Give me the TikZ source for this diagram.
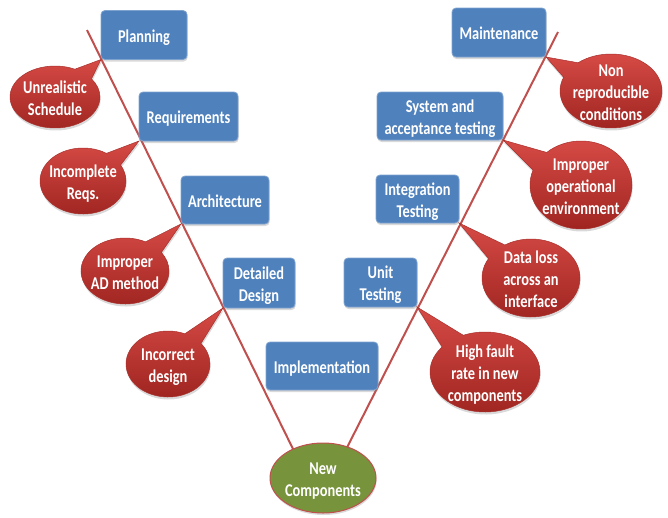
\documentclass[tikz,border=0pt]{standalone}
\usepackage{fontspec}
\setmainfont{Carlito}[FakeStretch=0.8]
\usetikzlibrary{shapes.callouts,shapes.geometric,shadows}

\definecolor{boxblue}{HTML}{4F81BD}
\definecolor{boxedge}{HTML}{7FA3CF}
\definecolor{vred}{HTML}{C0504D}
\definecolor{calltop}{HTML}{D64A45}
\definecolor{callmid}{HTML}{C33834}
\definecolor{callbot}{HTML}{9E2420}
\definecolor{calledge}{HTML}{A8302C}
\definecolor{compgreen}{HTML}{77933C}

% centred multi-line text that takes no room inside its node
\newcommand\ctxt[1]{\smash{\raisebox{-.4em}{\makebox[0pt]{\begin{tabular}{@{}c@{}}#1\end{tabular}}}}}

\tikzset{
  lbl/.style={text=white, font=\fontsize{18}{22}\selectfont\bfseries, inner sep=0pt, outer sep=0pt},
  phase/.style={lbl, rectangle, rounded corners=4pt, fill=boxblue, draw=boxedge, line width=0.8pt,
    drop shadow={shadow xshift=0.6pt, shadow yshift=-2pt, opacity=0.3}},
  risk/.style={lbl, ellipse callout, callout pointer arc=28, top color=calltop, middle color=callmid,
    bottom color=callbot, draw=calledge, line width=0.5pt,
    drop shadow={shadow xshift=0.6pt, shadow yshift=-2.5pt, opacity=0.3}},
  vline/.style={draw=vred, line width=2pt},
}

\begin{document}
\begin{tikzpicture}[x=1pt, y=-1pt]
\useasboundingbox (0,0) rectangle (668,517);

% bottom of the V
\node[lbl, ellipse, fill=compgreen, draw=vred, line width=1pt, minimum width=106pt, minimum height=70pt,
  drop shadow={shadow xshift=0.6pt, shadow yshift=-2pt, opacity=0.3}]
  (newc) at (323,478) {\ctxt{New\\Components}};

% the two arms
\coordinate (ltop) at (87,30);
\coordinate (rtop) at (558,32);
\draw[vline] (ltop) -- (newc.136);
\draw[vline] (rtop) -- (newc.52);

% development phases
\node[phase, minimum width=86pt, minimum height=49pt] (plan) at (144,35) {\ctxt{Planning}};
\node[phase, minimum width=99pt, minimum height=49pt] (req) at (188.5,116.5) {\ctxt{Requirements}};
\node[phase, minimum width=88pt, minimum height=48pt] (arch) at (225,200) {\ctxt{Architecture}};
\node[phase, minimum width=72pt, minimum height=50pt] (det) at (259,283) {\ctxt{Detailed\\Design}};
\node[phase, minimum width=112pt, minimum height=48pt] (impl) at (322,366) {\ctxt{Implementation}};
\node[phase, minimum width=73pt, minimum height=49pt] (unit) at (380.5,282.5) {\ctxt{Unit\\Testing}};
\node[phase, minimum width=83pt, minimum height=48pt] (integ) at (417.5,199) {\ctxt{Integration\\Testing}};
\node[phase, minimum width=126pt, minimum height=48pt] (sys) at (440,116) {\ctxt{System and\\acceptance testing}};
\node[phase, minimum width=94pt, minimum height=49pt] (maint) at (499,32.5) {\ctxt{Maintenance}};

% risks attached to each phase
\node[risk, minimum width=90pt, minimum height=62pt, callout absolute pointer={(plan.south west)}]
  (r1) at (55,97) {\ctxt{Unrealistic\\Schedule}};
\node[risk, minimum width=86pt, minimum height=66pt, callout absolute pointer={(req.south west)}]
  (r2) at (83,181) {\ctxt{Incomplete\\Reqs.}};
\node[risk, minimum width=88pt, minimum height=66pt, callout absolute pointer={(arch.south west)}]
  (r3) at (125,271) {\ctxt{Improper\\AD method}};
\node[risk, minimum width=84pt, minimum height=66pt, callout absolute pointer={(det.south west)}]
  (r4) at (168,364) {\ctxt{Incorrect\\design}};
\node[risk, minimum width=102pt, minimum height=74pt, callout absolute pointer={(maint.south east)}]
  (r5) at (611,91) {\ctxt{Non\\reproducible\\conditions}};
\node[risk, minimum width=102pt, minimum height=88pt, callout absolute pointer={(sys.south east)}]
  (r6) at (581,185) {\ctxt{Improper\\operational\\environment}};
\node[risk, minimum width=98pt, minimum height=78pt, callout absolute pointer={(integ.south east)}]
  (r7) at (531,278) {\ctxt{Data loss\\across an\\interface}};
\node[risk, minimum width=110pt, minimum height=80pt, callout absolute pointer={(unit.south east)}]
  (r8) at (485,372) {\ctxt{High fault\\rate in new\\components}};
\end{tikzpicture}
\end{document}
